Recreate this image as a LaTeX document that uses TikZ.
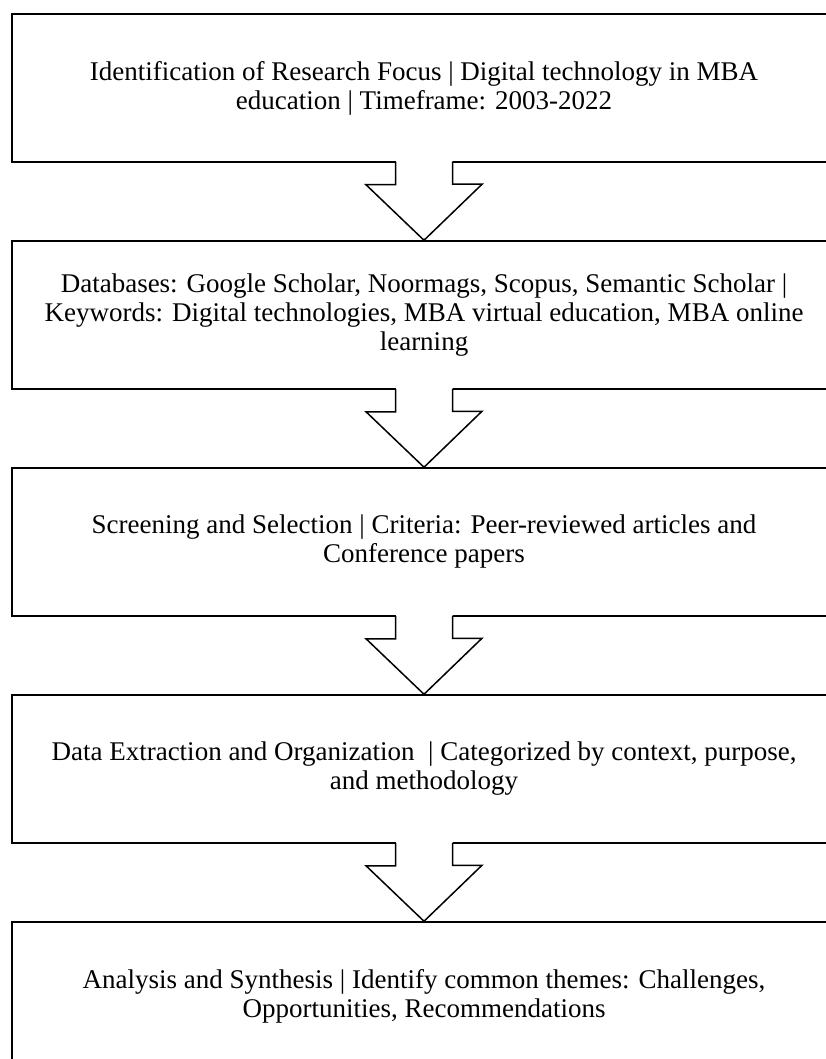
\documentclass[tikz,border=0pt]{standalone}
\usepackage{fontspec}
\setmainfont{Liberation Serif}
\usetikzlibrary{positioning}

\begin{document}
\begin{tikzpicture}[
  x=1pt, y=-1pt,
  stage/.style={draw, line width=1.5pt, rectangle, minimum width=824pt, minimum height=148pt,
    align=center, font=\fontsize{27}{29}\selectfont,
    execute at begin node={\rule{0pt}{28pt}}},
  flow/.style={line width=1.5pt, line join=miter}
]
\useasboundingbox (0,0) rectangle (825,1059);

\node[stage] (b1) at (424,88) {Identification of Research Focus | Digital technology in MBA\\
  education | Timeframe: 2003-2022};
\node[stage, below=77.5pt of b1] (b2) {Databases: Google Scholar, Noormags, Scopus, Semantic Scholar |\\
  Keywords: Digital technologies, MBA virtual education, MBA online\\ learning};
\node[stage, below=77.5pt of b2] (b3) {Screening and Selection | Criteria: Peer-reviewed articles and\\
  Conference papers};
\node[stage, below=77.5pt of b3] (b4) {Data Extraction and Organization~ | Categorized by context, purpose,\\
  and methodology};
\node[stage, below=77.5pt of b4] (b5) {Analysis and Synthesis | Identify common themes: Challenges,\\
  Opportunities, Recommendations};

% hollow arrows between the stages
\foreach \a/\b in {b1/b2, b2/b3, b3/b4, b4/b5}{
  \fill[white] (\a.south) ++(-28.5,-1.5) rectangle ++(57,3);
  \draw[flow] (\a.south) ++(-28.5,-0.75) -- ++(0,22.75) -- ++(-29.5,0) -- (\b.north)
    -- ++(58,-56) -- ++(-29.5,0) -- ++(0,-22.75);
}
\end{tikzpicture}
\end{document}
